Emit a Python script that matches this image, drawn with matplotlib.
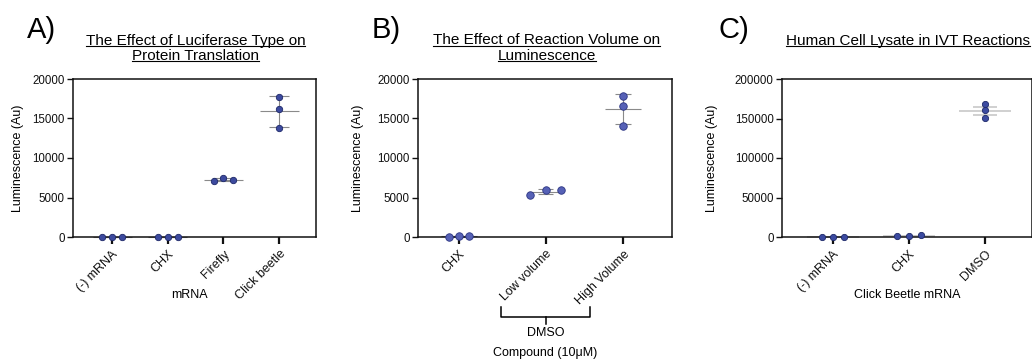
import matplotlib
matplotlib.use("Agg")
import matplotlib.pyplot as plt
import numpy as np
from matplotlib.lines import Line2D

plt.rcParams['font.family'] = ['Liberation Sans', 'DejaVu Sans']

# ---------------- data ----------------
a_categories = ["(-) mRNA", "CHX", "Firefly", "Click beetle"]
a_values = [[15, 20, 10], [10, 15, 12], [7090, 7500, 7170], [17680, 16160, 13840]]
a_yticks = [0, 5000, 10000, 15000, 20000]
a_title = ["The Effect of Luciferase Type on", "Protein Translation"]
a_xlabel = "mRNA"

b_categories = ["CHX", "Low volume", "High Volume"]
b_values = [[60, 90, 110], [5350, 5950, 5900], [17890, 16540, 14090]]
b_yticks = [0, 5000, 10000, 15000, 20000]
b_title = ["The Effect of Reaction Volume on", "Luminescence"]
b_group = "DMSO"
b_xlabel = "Compound (10\u03bcM)"

c_categories = ["(-) mRNA", "CHX", "DMSO"]
c_values = [[200, 300, 250], [1800, 1600, 1900], [168000, 161100, 150200]]
c_yticks = [0, 50000, 100000, 150000, 200000]
c_title = ["Human Cell Lysate in IVT Reactions"]
c_xlabel = "Click Beetle mRNA"

ylabel = "Luminescence (Au)"

# ---------------- layout ----------------
W, H = 1032, 359
fig = plt.figure(figsize=(W / 100, H / 100), dpi=100)


def fx(px):
    return px / W


def fy(py):
    return 1 - py / H


def make_axes(left, right, top=79, bottom=237):
    return fig.add_axes([fx(left), fy(bottom), (right - left) / W, (bottom - top) / H])


def panel(ax, cats, vals, pos, xlim, yticks, spreads, mean_hw, cap_hw,
          color, edge, ms, err, lcolor, llw):
    for i, (p, v) in enumerate(zip(pos, vals)):
        v = np.asarray(v, dtype=float)
        m = v.mean()
        e = v.std(ddof=1)
        if err == 'sem':
            e = e / np.sqrt(len(v))
        kw = dict(color=lcolor, lw=llw, zorder=2, clip_on=False, solid_capstyle='butt')
        ax.plot([p - mean_hw, p + mean_hw], [m, m], **kw)
        ax.plot([p, p], [m - e, m + e], **kw)
        for yy in (m - e, m + e):
            ax.plot([p - cap_hw, p + cap_hw], [yy, yy], **kw)
        offs = spreads[i] * np.array([-1, 0, 1])
        ax.plot(p + offs, v, 'o', ms=ms, mfc=color, mec=edge, mew=0.6,
                zorder=3, clip_on=False, ls='none')
    ax.set_xlim(xlim)
    ax.set_ylim(yticks[0], yticks[-1])
    ax.set_yticks(yticks)
    ax.set_yticklabels([str(t) for t in yticks])
    ax.set_xticks(pos)
    ax.set_xticklabels(cats, rotation=45, ha='right', rotation_mode='anchor')
    ax.tick_params(axis='y', length=4, width=1, labelsize=8.3, pad=2, colors='#111111')
    ax.tick_params(axis='x', length=5, width=1.6, labelsize=9, pad=3, colors='#111111')
    for s in ax.spines.values():
        s.set_linewidth(1.1)
        s.set_color('#111111')


# Panel A
axA = make_axes(73, 316)
posA = [0, 1, 2, 3]
panel(axA, a_categories, a_values, posA, (-0.70, 3.66), a_yticks,
      [0.175, 0.175, 0.17, 0], 0.35, 0.18, '#3c4a9e', '#1d2868', 4.6, 'sd', '#8a8a8a', 0.8)

# Panel B
axB = make_axes(418, 672)
posB = [0, 1.12, 2.12]
panel(axB, b_categories, b_values, posB, (-0.524, 2.749), b_yticks,
      [0.13, 0.2, 0], 0.23, 0.1, '#5661b6', '#2b3482', 5.4, 'sd', '#8a8a8a', 0.8)

# Panel C
axC = make_axes(782, 1031.5)
posC = [0, 1, 2]
panel(axC, c_categories, c_values, posC, (-0.67, 2.61), c_yticks,
      [0.14, 0.16, 0], 0.34, 0.16, '#3b4aa0', '#1d2868', 4.5, 'sem', '#c4c4c4', 1.1)

# y labels
for xpx, ax in ((18, axA), (358, axB), (712, axC)):
    fig.text(fx(xpx), fy(158), ylabel, rotation=90, ha='center', va='center', fontsize=9)

# x labels
axA.text((189 - 73) / 243, (237 - 295) / 158, a_xlabel, transform=axA.transAxes,
         ha='center', va='center', fontsize=9)
axC.text(0.5, (237 - 295) / 158, c_xlabel, transform=axC.transAxes,
         ha='center', va='center', fontsize=9)

# Bracket in panel B
tB = axB.get_xaxis_transform()
def ay(py):
    return (237 - py) / 158
bl, br, bc = posB[1] - 0.58, posB[1] + 0.57, posB[1]
axB.add_line(Line2D([bl, bl, br, br], [ay(307), ay(316.7), ay(316.7), ay(307)],
                    transform=tB, color='black', lw=1.1, clip_on=False))
axB.add_line(Line2D([bc, bc], [ay(316.7), ay(324)], transform=tB,
                    color='black', lw=1.1, clip_on=False))
axB.text(bc, ay(333), b_group, transform=tB, ha='center', va='center', fontsize=9)
axB.text(bc, ay(352.7), b_xlabel, transform=tB, ha='center', va='center', fontsize=9)

# Panel letters
for xpx, letter in ((27, "A)"), (372, "B)"), (718, "C)")):
    fig.text(fx(xpx), fy(38), letter, ha='left', va='baseline', fontsize=21)

# Underlined titles
title_texts = []
for cx, lines in ((195.5, a_title), (546.7, b_title), (908, c_title)):
    for k, line in enumerate(lines):
        yb = 44.5 + 15 * k
        t = fig.text(fx(cx), fy(yb), line, ha='center', va='baseline', fontsize=11)
        title_texts.append((t, yb))

renderer = fig.canvas.get_renderer()
for t, yb in title_texts:
    bb = t.get_window_extent(renderer)
    yline = fy(yb + 1.8)
    fig.add_artist(Line2D([bb.x0 / W, bb.x1 / W], [yline, yline],
                          transform=fig.transFigure, color='black', lw=0.8))

fig.savefig("out.png", dpi=100)
